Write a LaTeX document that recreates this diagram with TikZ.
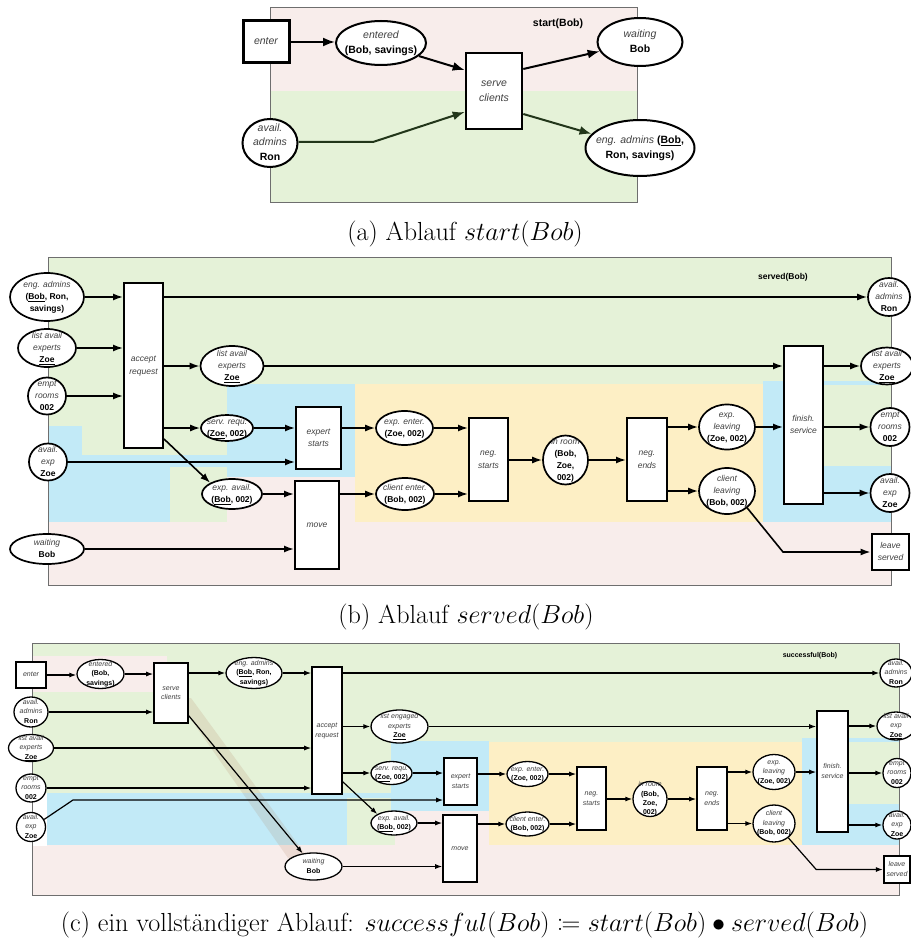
\documentclass[tikz,border=0pt]{standalone}
\usepackage{fontspec}
\usepackage{mathtools}
\usetikzlibrary{shapes.geometric,arrows.meta,calc}
\newfontfamily\lsans{Liberation Sans}
\definecolor{bgpink}{HTML}{F8EDEB}
\definecolor{bggreen}{HTML}{E5F2D8}
\definecolor{bgblue}{HTML}{C2EAF7}
\definecolor{bgyellow}{HTML}{FDEFC5}
\definecolor{framegray}{HTML}{6E6E6E}
\definecolor{itgray}{HTML}{404040}
\definecolor{darkgreen}{HTML}{22361A}
\definecolor{bandcol}{HTML}{B08060}
% node text: centred, takes no room, so the shape size is set by the style only
\newcommand\txt[1]{\makebox[0pt]{\raisebox{\dimexpr(\depth-\height)/2\relax}[0pt][0pt]{\begin{tabular}{@{}c@{}}#1\end{tabular}}}}
\newcommand\Itx[1]{{\color{itgray}\itshape #1}}
\newcommand\Btx[1]{\textbf{#1}}
\pgfdeclarelayer{bg}
\pgfsetlayers{bg,main}
\tikzset{
  wh/.style 2 args={minimum width=#1pt, minimum height=#2pt},
  ella/.style={draw, ellipse, fill=white, inner sep=0pt, line width=2pt, font=\lsans\fontsize{10.5}{14.8}\selectfont},
  boxa/.style={draw, rectangle, fill=white, inner sep=0pt, line width=2.6pt, font=\lsans\fontsize{10.5}{14.8}\selectfont},
  ellb/.style={draw, ellipse, fill=white, inner sep=0pt, line width=1.7pt, font=\lsans\fontsize{8.5}{12.3}\selectfont},
  boxb/.style={draw, rectangle, fill=white, inner sep=0pt, line width=2pt, font=\lsans\fontsize{8.5}{12.3}\selectfont},
  ellc/.style={draw, ellipse, fill=white, inner sep=0pt, line width=1.3pt, font=\lsans\fontsize{7}{9.4}\selectfont},
  boxc/.style={draw, rectangle, fill=white, inner sep=0pt, line width=1.6pt, font=\lsans\fontsize{7}{9.4}\selectfont},
  arra/.style={-{Latex[length=12pt,width=9pt]}, line width=2pt},
  arrb/.style={-{Latex[length=10pt,width=7pt]}, line width=1.6pt},
  arrc/.style={-{Latex[length=7pt,width=5pt]}, line width=1.2pt},
  frame/.style={draw=framegray, line width=1pt},
  caption/.style={font=\fontsize{24.88}{30}\selectfont, inner sep=0pt, scale=1.05, transform shape},
}
\begin{document}
\begin{tikzpicture}[x=1pt,y=-1pt]
\useasboundingbox (0,0) rectangle (910,944);

% ---------- backgrounds ----------
\begin{pgfonlayer}{bg}
  \fill[white] (0,0) rectangle (910,944);
  % (a)
  \fill[bgpink] (270,8) rectangle (637,91);
  \fill[bggreen] (270,91) rectangle (637,202);
  \draw[frame] (270,8) rectangle (637,202);
  % (b)
  \fill[bgpink] (48,257) rectangle (891,585);
  \fill[bggreen] (48,257) rectangle (891,384);
  \fill[bggreen] (48,384) rectangle (227,455);
  \fill[bgblue] (48,426) rectangle (82,522);
  \fill[bgblue] (82,455) rectangle (170,522);
  \fill[bgblue] (170,455) rectangle (227,467);
  \fill[bggreen] (170,467) rectangle (227,522);
  \fill[bgblue] (227,384) rectangle (355,477);
  \fill[bgyellow] (355,384) rectangle (763,522);
  \fill[bgblue] (763,381) rectangle (891,522);
  \fill[bggreen] (785,385) rectangle (891,466);
  \draw[frame] (48,257) rectangle (891,585);
  % (c)
  \fill[bgpink] (32,643) rectangle (899,895);
  \fill[bggreen] (32,643) rectangle (899,793);
  \fill[bgpink] (32,656) rectangle (167,692);
  \fill[white] (32,793) rectangle (47,846);
  \fill[bgblue] (47,793) rectangle (347,845);
  \fill[bgblue] (347,793) rectangle (395,798);
  \fill[bggreen] (347,798) rectangle (395,845);
  \fill[bgblue] (391,741) rectangle (489,811);
  \fill[bgyellow] (489,742) rectangle (802,845);
  \fill[bgblue] (802,738) rectangle (899,845);
  \fill[bggreen] (818,742) rectangle (899,804);
  \fill[bandcol, opacity=0.17] (176,698) -- (191,698) -- (308,858) -- (288,858) -- cycle;
  \draw[frame] (32,643) rectangle (899,895);
\end{pgfonlayer}

% ---------- (a) start(Bob) ----------
\node[boxa, wh={46}{42}, line width=3pt] (aenter) at (266,42) {\txt{\Itx{enter}}};
\node[ella, wh={90}{44}] (aentered) at (381,43) {\txt{\Itx{entered}\\\Btx{(Bob, savings)}}};
\node[boxa, wh={56}{76}] (aserve) at (494,91) {\txt{\Itx{serve}\\\Itx{clients}}};
\node[ella, wh={85}{48}] (await) at (640,42) {\txt{\Itx{waiting}\\\Btx{Bob}}};
\node[ella, wh={109}{56}] (aeng) at (640,148) {\txt{\Itx{eng. admins} \Btx{(\underline{Bob},}\\\Btx{Ron, savings)}}};
\node[ella, wh={55}{48}] (aavail) at (270,143) {\txt{\Itx{avail.}\\\Itx{admins}\\\Btx{Ron}}};
\node[font=\lsans\bfseries\fontsize{10.5}{12}\selectfont] (alabel) at (558,24) {start(Bob)};
\coordinate (abend) at (373,142);

\draw[arra] (aenter.east) -- (aenter.east -| aentered.west);
\draw[arra] (aentered.-19) -- ([yshift=21pt]aserve.west);
\draw[arra, darkgreen] (aavail.east |- abend) -- (abend) -- ([yshift=-21pt]aserve.west);
\draw[arra] ([yshift=22pt]aserve.east) -- (await);
\draw[arra, darkgreen] ([yshift=-23pt]aserve.east) -- (aeng);

\node[caption] (capa) at (465,234) {(a) Ablauf $start(Bob)$};

% ---------- (b) served(Bob) ----------
\node[ellb, wh={74}{48}] (bengl) at (47,297) {\txt{\Itx{eng. admins}\\\Btx{(\underline{Bob}, Ron,}\\\Btx{savings)}}};
\node[ellb, wh={58}{38}] (blistl) at (47,348) {\txt{\Itx{list avail}\\\Itx{experts}\\\Btx{\underline{Zoe}}}};
\node[ellb, wh={38}{37}] (bempl) at (47,396) {\txt{\Itx{empt}\\\Itx{rooms}\\\Btx{002}}};
\node[ellb, wh={38}{37}] (bavxl) at (48,462) {\txt{\Itx{avail.}\\\Itx{exp}\\\Btx{Zoe}}};
\node[ellb, wh={74}{30}] (bwait) at (47,549) {\txt{\Itx{waiting}\\\Btx{Bob}}};
\node[boxb, wh={39}{165}] (bacc) at (143.5,365.5) {\txt{\Itx{accept}\\\Itx{request}}};
\node[ellb, wh={63}{40}] (blist2) at (232,366) {\txt{\Itx{list avail}\\\Itx{experts}\\\Btx{\underline{Zoe}}}};
\node[ellb, wh={52}{26}] (bsreq) at (227,428) {\txt{\Itx{serv. requ.}\\\Btx{(\underline{Zoe}, 002)}}};
\node[ellb, wh={60}{30}] (bexav) at (232,494) {\txt{\Itx{exp. avail.}\\\Btx{(\underline{Bob}, 002)}}};
\node[boxb, wh={45}{62}] (bexst) at (318.5,438) {\txt{\Itx{expert}\\\Itx{starts}}};
\node[boxb, wh={44}{88}] (bmove) at (317,525) {\txt{\Itx{move}}};
\node[ellb, wh={57}{34}] (bexen) at (404.5,428) {\txt{\Itx{exp. enter.}\\\Btx{(Zoe, 002)}}};
\node[ellb, wh={58}{32}] (bclen) at (405,494) {\txt{\Itx{client enter.}\\\Btx{(Bob, 002)}}};
\node[boxb, wh={39}{83}] (bnegs) at (488.5,459.5) {\txt{\Itx{neg.}\\\Itx{starts}}};
\node[ellb, wh={45}{49}] (broom) at (565.5,460) {\txt{\Itx{in room}\\\Btx{(Bob,}\\\Btx{Zoe,}\\\Btx{002)}}};
\node[boxb, wh={40}{83}] (bnege) at (647,459.5) {\txt{\Itx{neg.}\\\Itx{ends}}};
\node[ellb, wh={56}{45}] (bexlv) at (727,427) {\txt{\Itx{exp.}\\\Itx{leaving}\\\Btx{(Zoe, 002)}}};
\node[ellb, wh={56}{46}] (bcllv) at (727,491) {\txt{\Itx{client}\\\Itx{leaving}\\\Btx{(Bob, 002)}}};
\node[boxb, wh={39}{158}] (bfin) at (803.5,425) {\txt{\Itx{finish.}\\\Itx{service}}};
\node[ellb, wh={42}{38}] (bavar) at (889,297) {\txt{\Itx{avail.}\\\Itx{admins}\\\Btx{Ron}}};
\node[ellb, wh={52}{37}] (blistr) at (887,366) {\txt{\Itx{list avail}\\\Itx{experts}\\\Btx{\underline{Zoe}}}};
\node[ellb, wh={39}{38}] (bempr) at (890,427) {\txt{\Itx{empt}\\\Itx{rooms}\\\Btx{002}}};
\node[ellb, wh={39}{38}] (bavxr) at (890,493) {\txt{\Itx{avail.}\\\Itx{exp}\\\Btx{Zoe}}};
\node[boxb, wh={37}{36}, line width=2.8pt] (bleave) at (890.5,552) {\txt{\Itx{leave}\\\Itx{served}}};
\node[font=\lsans\bfseries\fontsize{8.5}{10}\selectfont] (blabel) at (783,277) {served(Bob)};

\draw[arrb] (bengl.east) -- (bengl.east -| bacc.west);
\draw[arrb] (blistl.east) -- (blistl.east -| bacc.west);
\draw[arrb] (bempl.east) -- (bempl.east -| bacc.west);
\draw[arrb] (bacc.east |- bavar.west) -- (bavar.west);
\draw[arrb] (bacc.east |- blist2.west) -- (blist2.west);
\draw[arrb] (blist2.east) -- (blist2.east -| bfin.west);
\draw[arrb] (bfin.east |- blistr.west) -- (blistr.west);
\draw[arrb] (bacc.east |- bsreq.west) -- (bsreq.west);
\draw[arrb] ([yshift=10pt]bacc.south east) -- (bexav.north west);
\draw[arrb] (bsreq.east) -- (bsreq.east -| bexst.west);
\draw[arrb] (bavxl.east) -- (bavxl.east -| bexst.west);
\draw[arrb] (bexav.east) -- (bexav.east -| bmove.west);
\draw[arrb] (bwait.east) -- (bwait.east -| bmove.west);
\draw[arrb] (bexst.east |- bexen.west) -- (bexen.west);
\draw[arrb] (bmove.east |- bclen.west) -- (bclen.west);
\draw[arrb] (bexen.east) -- (bexen.east -| bnegs.west);
\draw[arrb] (bclen.east) -- (bclen.east -| bnegs.west);
\draw[arrb] (bnegs.east |- broom.west) -- (broom.west);
\draw[arrb] (broom.east) -- (broom.east -| bnege.west);
\draw[arrb] (bnege.east |- bexlv.west) -- (bexlv.west);
\draw[arrb] (bnege.east |- bcllv.west) -- (bcllv.west);
\draw[arrb] (bexlv.east) -- (bexlv.east -| bfin.west);
\draw[arrb] (bfin.east |- bempr.west) -- (bempr.west);
\draw[arrb] (bfin.east |- bavxr.west) -- (bavxr.west);
\draw[arrb] (bcllv.-40) -- (bfin.south west |- bleave.west) -- (bleave.west);

\node[caption] (capb) at (466,617) {(b) Ablauf $served(Bob)$};

% ---------- (c) successful(Bob) ----------
\node[boxc, wh={30}{26}, line width=2.2pt] (cent) at (31,675) {\txt{\Itx{enter}}};
\node[ellc, wh={47}{29}] (centd) at (100.5,674) {\txt{\Itx{entered}\\\Btx{(Bob,}\\\Btx{savings)}}};
\node[ellc, wh={34}{30}] (cava) at (31,712) {\txt{\Itx{avail.}\\\Itx{admins}\\\Btx{Ron}}};
\node[ellc, wh={45}{27}] (clistl) at (31,748) {\txt{\Itx{list avail}\\\Itx{experts}\\\Btx{\underline{Zoe}}}};
\node[ellc, wh={30}{28}] (cempl) at (31,788) {\txt{\Itx{empt}\\\Itx{rooms}\\\Btx{002}}};
\node[ellc, wh={29}{29}] (cavxl) at (31,827) {\txt{\Itx{avail.}\\\Itx{exp}\\\Btx{Zoe}}};
\node[boxc, wh={34}{60}] (csc) at (171,693) {\txt{\Itx{serve}\\\Itx{clients}}};
\node[ellc, wh={56}{31}] (ceng) at (254,673) {\txt{\Itx{eng. admins}\\\Btx{(\underline{Bob}, Ron,}\\\Btx{savings)}}};
\node[boxc, wh={30}{127}] (cacc) at (327,730.5) {\txt{\Itx{accept}\\\Itx{request}}};
\node[ellc, wh={57}{27}] (cwait) at (313.5,866.5) {\txt{\Itx{waiting}\\\Btx{Bob}}};
\node[ellc, wh={57}{33}] (cleng) at (399.5,726.5) {\txt{\Itx{list engaged}\\\Itx{experts}\\\Btx{\underline{Zoe}}}};
\node[ellc, wh={41}{23}] (csreq) at (391.5,773) {\txt{\Itx{serv. requ.}\\\Btx{(\underline{Zoe}, 002)}}};
\node[ellc, wh={46}{24}] (cexav) at (394,823) {\txt{\Itx{exp. avail.}\\\Btx{(\underline{Bob}, 002)}}};
\node[boxc, wh={33}{47}] (cexst) at (460.5,781.5) {\txt{\Itx{expert}\\\Itx{starts}}};
\node[boxc, wh={34}{67}] (cmove) at (460,848.5) {\txt{\Itx{move}}};
\node[ellc, wh={41}{25}] (cexen) at (527.5,774) {\txt{\Itx{exp. enter.}\\\Btx{(Zoe, 002)}}};
\node[ellc, wh={43}{24}] (cclen) at (527.5,824) {\txt{\Itx{client enter.}\\\Btx{(Bob, 002)}}};
\node[boxc, wh={29}{63}] (cnegs) at (591.5,798.5) {\txt{\Itx{neg.}\\\Itx{starts}}};
\node[ellc, wh={34}{35}] (croom) at (650,799) {\txt{\Itx{in room}\\\Btx{(Bob,}\\\Btx{Zoe,}\\\Btx{002)}}};
\node[boxc, wh={30}{63}] (cnege) at (712,798.5) {\txt{\Itx{neg.}\\\Itx{ends}}};
\node[ellc, wh={42}{35}] (cexlv) at (774,772) {\txt{\Itx{exp.}\\\Itx{leaving}\\\Btx{(Zoe, 002)}}};
\node[ellc, wh={42}{37}] (ccllv) at (774,823.5) {\txt{\Itx{client}\\\Itx{leaving}\\\Btx{(Bob, 002)}}};
\node[boxc, wh={31}{121}] (cfin) at (832.5,771.5) {\txt{\Itx{finish.}\\\Itx{service}}};
\node[ellc, wh={32}{28}] (cavar) at (896,673) {\txt{\Itx{avail.}\\\Itx{admins}\\\Btx{Ron}}};
\node[ellc, wh={38}{28}] (clistr) at (896,726) {\txt{\Itx{list avail}\\\Itx{exp}\\\Btx{\underline{Zoe}}}};
\node[ellc, wh={28}{29}] (cempr) at (897,773) {\txt{\Itx{empt}\\\Itx{rooms}\\\Btx{002}}};
\node[ellc, wh={28}{28}] (cavxr) at (897,825) {\txt{\Itx{avail.}\\\Itx{exp}\\\Btx{Zoe}}};
\node[boxc, wh={26}{27}, line width=2.2pt] (cleave) at (897,869.5) {\txt{\Itx{leave}\\\Itx{served}}};
\node[font=\lsans\bfseries\fontsize{7}{8}\selectfont] (clabel) at (810,656) {successful(Bob)};
\coordinate (cbend) at (73,800);

\draw[arrc] (cent.east) -- (cent.east -| centd.west);
\draw[arrc] (centd.east) -- (centd.east -| csc.west);
\draw[arrc] (cava.east) -- (cava.east -| csc.west);
\draw[arrc] (clistl.east) -- (clistl.east -| cacc.west);
\draw[arrc] (cempl.east) -- (cempl.east -| cacc.west);
\draw[arrc] (cavxl.30) -- (cbend) -- (cbend -| cexst.west);
\draw[arrc] (csc.east |- ceng.west) -- (ceng.west);
\draw[arrc] (ceng.east) -- (ceng.east -| cacc.west);
\draw[arrc] ([yshift=8pt]csc.south east) -- (cwait);
\draw[arrc] (cacc.east |- cavar.west) -- (cavar.west);
\draw[arrc] (cacc.east |- cleng.west) -- (cleng.west);
\draw[arrc] (cleng.east) -- (cleng.east -| cfin.west);
\draw[arrc] (cfin.east |- clistr.west) -- (clistr.west);
\draw[arrc] (cacc.east |- csreq.west) -- (csreq.west);
\draw[arrc] ([yshift=13pt]cacc.south east) -- (cexav.north west);
\draw[arrc] (csreq.east) -- (csreq.east -| cexst.west);
\draw[arrc] (cexav.east) -- (cexav.east -| cmove.west);
\draw[arrc] (cwait.east) -- (cwait.east -| cmove.west);
\draw[arrc] (cexst.east |- cexen.west) -- (cexen.west);
\draw[arrc] (cmove.east |- cclen.west) -- (cclen.west);
\draw[arrc] (cexen.east) -- (cexen.east -| cnegs.west);
\draw[arrc] (cclen.east) -- (cclen.east -| cnegs.west);
\draw[arrc] (cnegs.east |- croom.west) -- (croom.west);
\draw[arrc] (croom.east) -- (croom.east -| cnege.west);
\draw[arrc] (cnege.east |- cexlv.west) -- (cexlv.west);
\draw[arrc] (cnege.east |- ccllv.west) -- (ccllv.west);
\draw[arrc] (cexlv.east) -- (cexlv.east -| cfin.west);
\draw[arrc] (cfin.east |- cempr.west) -- (cempr.west);
\draw[arrc] (cfin.east |- cavxr.west) -- (cavxr.west);
\draw[arrc] (ccllv.-45) -- (cfin.south west |- cleave.west) -- (cleave.west);

\node[caption] (capc) at (464.5,925) {(c) ein vollständiger Ablauf: $successful(Bob) \coloneqq start(Bob) \bullet served(Bob)$};
\end{tikzpicture}
\end{document}
